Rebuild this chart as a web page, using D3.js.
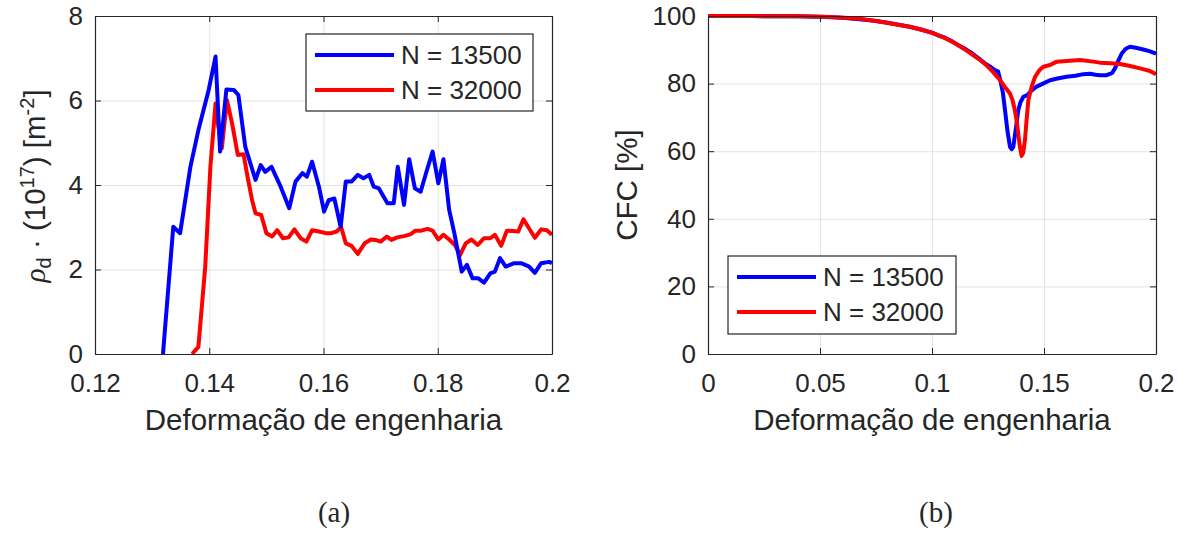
<!DOCTYPE html>
<html>
<head>
<meta charset="utf-8">
<script src="https://cdn.jsdelivr.net/npm/d3@7"></script>
<style>
  html, body { margin: 0; padding: 0; background: #fff; }
  svg { display: block; }
  text { font-family: "Liberation Sans", Arial, Helvetica, sans-serif; fill: #262626; }
</style>
</head>
<body>
<svg id="fig" width="1184" height="536"></svg>
<script>
// ---------- (a) dislocation density vs engineering strain ----------
const rhoStrain13500 = [0.1319, 0.1337, 0.1349, 0.1367, 0.1381, 0.1399, 0.1411, 0.1419, 0.1430, 0.1443, 0.1451, 0.1463, 0.1472, 0.1481, 0.1490, 0.1498, 0.1509, 0.1525, 0.1540, 0.1551, 0.1563, 0.1571, 0.1580, 0.1592, 0.1601, 0.1609, 0.1619, 0.1630, 0.1639, 0.1649, 0.1660, 0.1670, 0.1680, 0.1688, 0.1697, 0.1712, 0.1723, 0.1730, 0.1741, 0.1750, 0.1760, 0.1770, 0.1781, 0.1791, 0.1801, 0.1810, 0.1820, 0.1829, 0.1842, 0.1851, 0.1861, 0.1871, 0.1881, 0.1892, 0.1900, 0.1909, 0.1919, 0.1934, 0.1946, 0.1960, 0.1970, 0.1981, 0.1995, 0.2000];
const rho13500 = [0.0, 3.01, 2.86, 4.43, 5.30, 6.25, 7.04, 4.79, 6.26, 6.25, 6.13, 4.91, 4.51, 4.12, 4.47, 4.31, 4.43, 3.96, 3.45, 4.08, 4.28, 4.20, 4.55, 3.96, 3.37, 3.64, 3.68, 3.01, 4.08, 4.08, 4.24, 4.16, 4.24, 3.96, 3.92, 3.57, 3.57, 4.43, 3.53, 4.61, 3.92, 3.84, 4.35, 4.79, 4.04, 4.61, 3.41, 2.86, 1.95, 2.11, 1.79, 1.79, 1.69, 1.91, 1.95, 2.27, 2.07, 2.15, 2.15, 2.07, 1.92, 2.15, 2.18, 2.15];

const rhoStrain32000 = [0.1370, 0.1381, 0.1393, 0.1402, 0.1411, 0.1416, 0.1422, 0.1431, 0.1440, 0.1450, 0.1460, 0.1467, 0.1475, 0.1481, 0.1491, 0.1500, 0.1510, 0.1519, 0.1529, 0.1539, 0.1549, 0.1560, 0.1570, 0.1580, 0.1592, 0.1604, 0.1614, 0.1623, 0.1631, 0.1639, 0.1649, 0.1660, 0.1672, 0.1683, 0.1691, 0.1700, 0.1711, 0.1719, 0.1729, 0.1741, 0.1752, 0.1761, 0.1771, 0.1782, 0.1791, 0.1801, 0.1810, 0.1820, 0.1830, 0.1839, 0.1849, 0.1859, 0.1870, 0.1881, 0.1892, 0.1900, 0.1911, 0.1921, 0.1931, 0.1941, 0.1950, 0.1960, 0.1970, 0.1981, 0.1991, 0.2000];
const rho32000 = [0.0, 0.17, 2.07, 4.43, 5.93, 5.38, 4.87, 6.01, 5.46, 4.71, 4.73, 4.20, 3.64, 3.33, 3.29, 2.86, 2.78, 2.93, 2.74, 2.76, 2.95, 2.74, 2.66, 2.93, 2.90, 2.86, 2.86, 2.90, 3.00, 2.62, 2.56, 2.37, 2.62, 2.71, 2.70, 2.66, 2.78, 2.70, 2.76, 2.79, 2.83, 2.92, 2.92, 2.96, 2.92, 2.71, 2.82, 2.71, 2.58, 2.34, 2.62, 2.71, 2.58, 2.74, 2.74, 2.82, 2.56, 2.92, 2.91, 2.90, 3.19, 2.97, 2.75, 2.95, 2.93, 2.82];

const xTicksA = [0.12, 0.14, 0.16, 0.18, 0.2];
const xTickLabelsA = ["0.12", "0.14", "0.16", "0.18", "0.2"];
const yTicksA = [0, 2, 4, 6, 8];
const yTickLabelsA = ["0", "2", "4", "6", "8"];

// ---------- (b) CFC vs engineering strain ----------
const cfcStrain13500 = [0, 0.010, 0.020, 0.030, 0.040, 0.050, 0.055, 0.060, 0.065, 0.070, 0.075, 0.080, 0.085, 0.090, 0.095, 0.100, 0.103, 0.106, 0.109, 0.112, 0.115, 0.118, 0.121, 0.124, 0.126, 0.128, 0.1295, 0.1305, 0.1316, 0.1326, 0.1337, 0.1348, 0.1356, 0.1363, 0.1374, 0.1385, 0.1395, 0.1408, 0.1425, 0.1445, 0.1467, 0.1495, 0.1527, 0.1560, 0.1601, 0.1640, 0.1676, 0.1705, 0.1730, 0.1750, 0.1780, 0.1805, 0.1817, 0.1832, 0.1847, 0.1865, 0.1884, 0.1910, 0.1943, 0.1970, 0.2000];
const cfc13500 = [100, 100, 100, 99.9, 99.9, 99.8, 99.6, 99.5, 99.2, 98.9, 98.5, 98.0, 97.4, 96.8, 96.0, 95.1, 94.2, 93.5, 92.5, 91.3, 90.2, 88.9, 87.4, 85.8, 85.0, 84.0, 83.6, 81.0, 77.5, 72.1, 66.0, 61.3, 60.6, 61.3, 66.5, 72.1, 74.5, 76.1, 76.6, 78.0, 79.1, 80.0, 81.0, 81.5, 82.0, 82.3, 82.8, 82.9, 82.6, 82.5, 82.5, 83.2, 84.5, 86.8, 88.9, 90.3, 90.9, 90.6, 90.1, 89.6, 88.9];

const cfcStrain32000 = [0, 0.010, 0.020, 0.030, 0.040, 0.050, 0.055, 0.060, 0.065, 0.070, 0.075, 0.080, 0.085, 0.090, 0.095, 0.100, 0.103, 0.106, 0.109, 0.112, 0.115, 0.118, 0.121, 0.124, 0.127, 0.1304, 0.1330, 0.1348, 0.1360, 0.1370, 0.1378, 0.1385, 0.1392, 0.1400, 0.1407, 0.1415, 0.1422, 0.1430, 0.1445, 0.1460, 0.1480, 0.1497, 0.1527, 0.1557, 0.1600, 0.1661, 0.1720, 0.1750, 0.1795, 0.1839, 0.1880, 0.1929, 0.1970, 0.2000];
const cfc32000 = [100, 100, 100, 99.9, 99.9, 99.8, 99.7, 99.5, 99.3, 99.0, 98.5, 98.0, 97.4, 96.8, 96.0, 95.0, 94.3, 93.4, 92.4, 91.2, 90.0, 88.6, 87.2, 85.6, 83.6, 81.0, 78.6, 77.1, 75.0, 72.1, 69.0, 65.2, 61.5, 58.6, 59.5, 63.3, 69.0, 75.1, 79.1, 82.0, 84.0, 85.0, 85.5, 86.5, 86.7, 87.0, 86.5, 86.2, 86.0, 85.8, 85.3, 84.5, 83.8, 82.8];

const xTicksB = [0, 0.05, 0.1, 0.15, 0.2];
const xTickLabelsB = ["0", "0.05", "0.1", "0.15", "0.2"];
const yTicksB = [0, 20, 40, 60, 80, 100];
const yTickLabelsB = ["0", "20", "40", "60", "80", "100"];

const seriesNames = ["N = 13500", "N = 32000"];
const seriesColors = ["#0000ff", "#ff0000"];

const svg = d3.select("#fig");
svg.append("rect").attr("width", 1184).attr("height", 536).attr("fill", "#fff");

const SANS = '"Liberation Sans", Arial, Helvetica, sans-serif';
const SERIF = '"Liberation Serif", "DejaVu Serif", serif';
const TICK_FONT = 26, LABEL_FONT = 29.5;
const AXIS_COLOR = "#262626", GRID_COLOR = "#e3e3e3";

function drawPanel(cfg) {
  const { left, right, top, bottom } = cfg.box;
  const x = d3.scaleLinear().domain(cfg.xDomain).range([left, right]);
  const y = d3.scaleLinear().domain(cfg.yDomain).range([bottom, top]);
  const g = svg.append("g");

  // grid
  g.append("g").attr("transform", `translate(0,${bottom})`)
    .call(d3.axisBottom(x).tickValues(cfg.xTicks).tickSize(-(bottom - top)).tickFormat(""))
    .call(s => s.select(".domain").remove())
    .call(s => s.selectAll("line").attr("stroke", GRID_COLOR).attr("stroke-width", 1));
  g.append("g").attr("transform", `translate(${left},0)`)
    .call(d3.axisLeft(y).tickValues(cfg.yTicks).tickSize(-(right - left)).tickFormat(""))
    .call(s => s.select(".domain").remove())
    .call(s => s.selectAll("line").attr("stroke", GRID_COLOR).attr("stroke-width", 1));

  // data lines
  const line = d3.line().x(d => x(d[0])).y(d => y(d[1]));
  cfg.drawOrder.forEach(i => {
    const s = cfg.series[i];
    g.append("path")
      .datum(d3.zip(s.x, s.y))
      .attr("d", line)
      .attr("fill", "none")
      .attr("stroke", seriesColors[i])
      .attr("stroke-width", 4)
      .attr("stroke-linejoin", "round")
      .attr("stroke-linecap", "butt");
  });

  // axes with inward ticks on all four sides
  const tickLen = 6;
  const styleAxis = s => {
    s.attr("font-family", SANS);
    s.select(".domain").attr("stroke", AXIS_COLOR).attr("stroke-width", 1.2);
    s.selectAll(".tick line").attr("stroke", AXIS_COLOR).attr("stroke-width", 1);
    s.selectAll(".tick text").attr("fill", AXIS_COLOR).style("font-size", TICK_FONT + "px");
  };
  g.append("g").attr("transform", `translate(0,${bottom})`)
    .call(d3.axisBottom(x).tickValues(cfg.xTicks).tickSizeInner(-tickLen).tickSizeOuter(0)
      .tickPadding(20).tickFormat((d, i) => cfg.xLabels[i]))
    .call(styleAxis)
    .call(s => s.selectAll(".tick text").attr("dy", "0.71em"));
  g.append("g").attr("transform", `translate(0,${top})`)
    .call(d3.axisTop(x).tickValues(cfg.xTicks).tickSizeInner(-tickLen).tickSizeOuter(0).tickFormat(""))
    .call(styleAxis);
  g.append("g").attr("transform", `translate(${left},0)`)
    .call(d3.axisLeft(y).tickValues(cfg.yTicks).tickSizeInner(-tickLen).tickSizeOuter(0)
      .tickPadding(12).tickFormat((d, i) => cfg.yLabels[i]))
    .call(styleAxis);
  g.append("g").attr("transform", `translate(${right},0)`)
    .call(d3.axisRight(y).tickValues(cfg.yTicks).tickSizeInner(-tickLen).tickSizeOuter(0).tickFormat(""))
    .call(styleAxis);

  // x label
  g.append("text")
    .attr("x", (left + right) / 2).attr("y", 430)
    .attr("text-anchor", "middle")
    .style("font-family", SANS)
    .style("font-size", LABEL_FONT + "px")
    .text("Deformação de engenharia");

  // legend
  const L = cfg.legend;
  const lg = g.append("g");
  lg.append("rect").attr("x", L.x).attr("y", L.y).attr("width", L.w).attr("height", L.h)
    .attr("fill", "#fff").attr("stroke", AXIS_COLOR).attr("stroke-width", 1.2);
  seriesNames.forEach((name, i) => {
    const cy = L.y + 21 + i * 35;
    lg.append("line").attr("x1", L.x + 9).attr("x2", L.x + 88).attr("y1", cy).attr("y2", cy)
      .attr("stroke", seriesColors[i]).attr("stroke-width", 4);
    lg.append("text").attr("x", L.x + 95).attr("y", cy).attr("dy", "0.35em")
      .style("font-family", SANS)
      .style("font-size", "26px").attr("fill", "#000").text(name);
  });

  // caption
  svg.append("text")
    .attr("x", cfg.captionX).attr("y", 522)
    .attr("text-anchor", "middle")
    .style("font-family", SERIF)
    .style("font-size", "29px").attr("fill", "#000")
    .text(cfg.caption);
  return g;
}

drawPanel({
  box: { left: 95, right: 552, top: 16, bottom: 354 },
  xDomain: [0.12, 0.2], yDomain: [0, 8],
  xTicks: xTicksA, xLabels: xTickLabelsA, yTicks: yTicksA, yLabels: yTickLabelsA,
  series: [{ x: rhoStrain13500, y: rho13500 }, { x: rhoStrain32000, y: rho32000 }],
  drawOrder: [1, 0],
  legend: { x: 306, y: 34, w: 227, h: 77 },
  caption: "(a)", captionX: 334
});

drawPanel({
  box: { left: 708, right: 1156, top: 16, bottom: 354 },
  xDomain: [0, 0.2], yDomain: [0, 100],
  xTicks: xTicksB, xLabels: xTickLabelsB, yTicks: yTicksB, yLabels: yTickLabelsB,
  series: [{ x: cfcStrain13500, y: cfc13500 }, { x: cfcStrain32000, y: cfc32000 }],
  drawOrder: [0, 1],
  legend: { x: 728, y: 256, w: 228, h: 78 },
  caption: "(b)", captionX: 936
});

// y labels
const yl = svg.append("text")
  .attr("transform", "translate(45,186) rotate(-90)")
  .attr("text-anchor", "middle")
  .style("font-family", SANS)
  .style("font-size", LABEL_FONT + "px");
yl.append("tspan").style("font-family", SERIF)
  .style("font-style", "italic").text("ρ");
yl.append("tspan").attr("dy", 6).style("font-size", "20px").text("d");
yl.append("tspan").attr("dy", -6).text(" · (10");
yl.append("tspan").attr("dy", -11).style("font-size", "20px").text("17");
yl.append("tspan").attr("dy", 11).text(") [m");
yl.append("tspan").attr("dy", -11).style("font-size", "20px").text("-2");
yl.append("tspan").attr("dy", 11).text("]");

svg.append("text")
  .attr("transform", "translate(637,185) rotate(-90)")
  .attr("text-anchor", "middle")
  .style("font-family", SANS)
  .style("font-size", LABEL_FONT + "px")
  .text("CFC [%]");
</script>
</body>
</html>
